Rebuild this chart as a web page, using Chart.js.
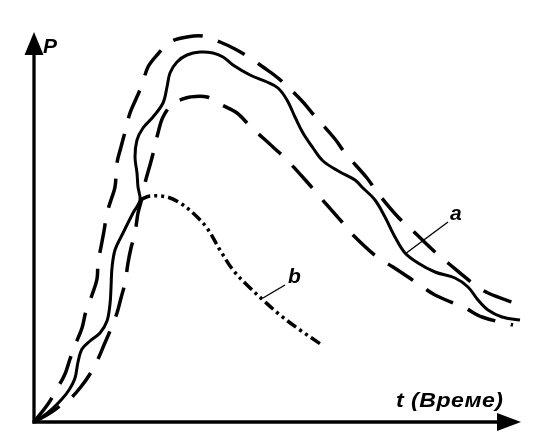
<!DOCTYPE html>
<html>
<head>
<meta charset="utf-8">
<script src="https://cdn.jsdelivr.net/npm/chart.js@4/dist/chart.umd.min.js"></script>
<style>
  html, body { margin: 0; padding: 0; background: #ffffff; }
  #wrap { width: 550px; height: 442px; position: relative; }
</style>
</head>
<body>
<div id="wrap"><canvas id="c"></canvas></div>
<script>
// Axis extents (arbitrary units)
const T_MAX = 486;
const P_MAX = 390;

// Axis / annotation labels
const yAxisLabel = "P";
const xAxisLabel = "t (Време)";
const labelA = "a";
const labelB = "b";

// Curve a (solid, measured)
const aT = [0, 8, 18, 28, 35, 41, 44, 48, 56, 66, 73, 76, 77, 78, 81, 89, 99, 106, 104, 103, 101, 103, 109, 119, 129, 133, 136, 143, 153, 166, 179, 189, 199, 216, 233, 244, 253, 261, 269, 279, 289, 306, 321, 329, 341, 351, 361, 371, 384, 401, 421, 434, 444, 454, 468, 486];
const aP = [0, 5, 13, 23, 32, 44, 60, 73, 81, 89, 101, 118, 134, 154, 172, 189, 209, 222, 235, 249, 265, 282, 294, 305, 319, 335, 349, 360, 367, 370, 369, 365, 357, 347, 340, 334, 322, 305, 289, 274, 261, 250, 242, 234, 222, 205, 185, 169, 159, 150, 144, 135, 122, 112, 105, 102];

// Upper bound of a (dashed)
const upT = [0, 14, 23, 31, 36, 42, 48, 52, 58, 63, 64, 67, 70, 73, 77, 81, 83, 87, 91, 96, 102, 108, 114, 124, 136, 153, 169, 186, 201, 216, 229, 244, 268, 279, 301, 311, 333, 343, 364, 378, 401, 414, 441, 454, 486];
const upP = [0, 18, 33, 48, 63, 79, 94, 111, 127, 143, 159, 175, 191, 209, 222, 235, 259, 275, 290, 309, 323, 337, 355, 368, 380, 385, 386, 380, 373, 364, 355, 344, 321, 308, 283, 269, 244, 230, 205, 192, 170, 159, 137, 129, 117];

// Lower bound of a (dashed)
const loT = [0, 16, 26, 34, 46, 56, 64, 70, 76, 83, 87, 91, 94, 97, 101, 104, 108, 111, 116, 120, 124, 129, 139, 146, 156, 173, 188, 203, 216, 239, 253, 274, 286, 308, 319, 343, 359, 386, 401, 431, 448, 479];
const loP = [0, 9, 16, 21, 34, 48, 63, 77, 91, 109, 124, 139, 159, 174, 189, 209, 224, 239, 257, 272, 289, 305, 319, 322, 325, 325, 317, 309, 296, 275, 262, 239, 225, 200, 187, 165, 155, 137, 127, 114, 105, 97];

// Curve b (dash-dot-dot)
const bT = [106, 116, 133, 146, 159, 173, 186, 199, 213, 229, 246, 266, 288];
const bP = [222, 226, 225, 219, 209, 194, 172, 152, 137, 122, 107, 92, 77];

// Leader lines to the labels
const leadAT = [371, 414];
const leadAP = [168, 200];
const leadBT = [229, 251];
const leadBP = [124, 137];
const labelAPos = [416, 202];
const labelBPos = [254, 139];

function pts(xs, ys) { return xs.map((x, i) => ({ x: x, y: ys[i] })); }

const axesPlugin = {
  id: 'axesArrows',
  afterDatasetsDraw(chart) {
    const ctx = chart.ctx;
    const xs = chart.scales.x, ys = chart.scales.y;
    const x0 = xs.getPixelForValue(0), y0 = ys.getPixelForValue(0);
    const xr = xs.getPixelForValue(T_MAX), yt = ys.getPixelForValue(P_MAX);
    ctx.save();
    ctx.strokeStyle = '#000';
    ctx.fillStyle = '#000';
    ctx.lineWidth = 3.3;
    ctx.lineCap = 'butt';
    // y axis
    ctx.beginPath();
    ctx.moveTo(x0, y0 + 1.5);
    ctx.lineTo(x0, yt + 15);
    ctx.stroke();
    // x axis
    ctx.beginPath();
    ctx.moveTo(x0 - 1.5, y0);
    ctx.lineTo(xr - 15, y0);
    ctx.stroke();
    // y arrow
    ctx.beginPath();
    ctx.moveTo(x0, yt);
    ctx.lineTo(x0 - 9.5, yt + 23);
    ctx.lineTo(x0 + 9.5, yt + 23);
    ctx.closePath();
    ctx.fill();
    // x arrow
    ctx.beginPath();
    ctx.moveTo(xr + 1, y0);
    ctx.lineTo(xr - 23, y0 - 9);
    ctx.lineTo(xr - 23, y0 + 9);
    ctx.closePath();
    ctx.fill();

    // texts
    ctx.textBaseline = 'alphabetic';
    ctx.textAlign = 'left';
    ctx.font = 'italic bold 21px "Liberation Sans", Arial, sans-serif';
    ctx.fillText(yAxisLabel, x0 + 9, yt + 21);

    // x label: slightly widened glyphs like the scanned original
    ctx.font = 'italic bold 21px "Liberation Sans", Arial, sans-serif';
    const w = ctx.measureText(xAxisLabel).width;
    const sx = Math.min(1.1, 107 / w);
    const rest = Math.max(0, (107 - w * sx) / (xAxisLabel.length - 1) / sx);
    ctx.save();
    ctx.translate(xr - 124, y0 - 15);
    ctx.scale(sx, 1);
    ctx.letterSpacing = rest.toFixed(2) + 'px';
    ctx.fillText(xAxisLabel, 0, 0);
    ctx.restore();

    ctx.font = 'italic bold 21px "Liberation Sans", Arial, sans-serif';
    ctx.fillText(labelA, xs.getPixelForValue(labelAPos[0]), ys.getPixelForValue(labelAPos[1]));
    ctx.fillText(labelB, xs.getPixelForValue(labelBPos[0]), ys.getPixelForValue(labelBPos[1]));
    ctx.restore();
  }
};

const common = { pointRadius: 0, pointHoverRadius: 0, fill: false, borderColor: '#000', showLine: true, clip: false };

new Chart(document.getElementById('c'), {
  type: 'scatter',
  data: {
    datasets: [
      Object.assign({ label: 'a', data: pts(aT, aP), borderWidth: 3, tension: 0.35 }, common),
      Object.assign({ label: 'a upper', data: pts(upT, upP), borderWidth: 3.5, borderDash: [30, 16], tension: 0.35 }, common),
      Object.assign({ label: 'a lower', data: pts(loT, loP), borderWidth: 3.5, borderDash: [30, 16], tension: 0.35 }, common),
      Object.assign({ label: 'b', data: pts(bT, bP), borderWidth: 3.5, borderDash: [11, 4, 3, 4, 3, 4], tension: 0.35 }, common),
      Object.assign({ label: 'lead a', data: pts(leadAT, leadAP), borderWidth: 1.4, tension: 0 }, common),
      Object.assign({ label: 'lead b', data: pts(leadBT, leadBP), borderWidth: 1.4, tension: 0 }, common)
    ]
  },
  options: {
    responsive: true,
    maintainAspectRatio: false,
    animation: false,
    events: [],
    layout: { padding: { left: 34, right: 30, top: 32, bottom: 20 } },
    plugins: { legend: { display: false }, tooltip: { enabled: false }, title: { display: false } },
    scales: {
      x: { type: 'linear', min: 0, max: T_MAX, display: false },
      y: { type: 'linear', min: 0, max: P_MAX, display: false }
    }
  },
  plugins: [axesPlugin]
});
</script>
</body>
</html>
